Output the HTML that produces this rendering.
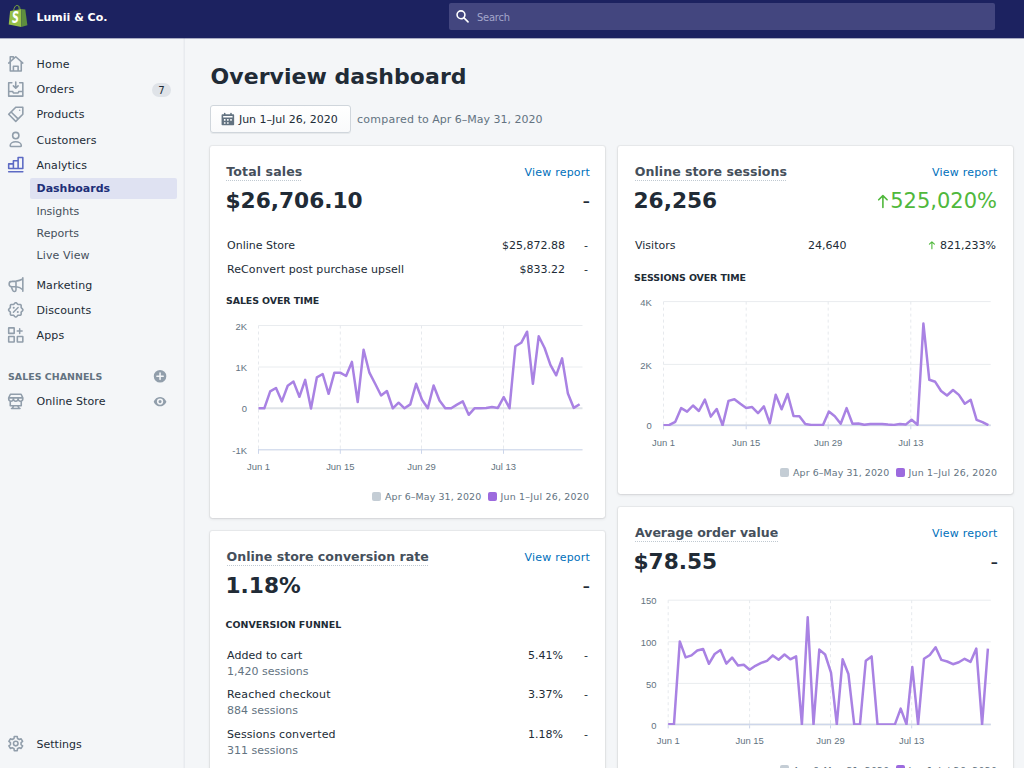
<!DOCTYPE html>
<html lang="en">
<head>
<meta charset="utf-8">
<title>Overview dashboard</title>
<style>
*{box-sizing:border-box;margin:0;padding:0}
html,body{width:1024px;height:768px;overflow:hidden}
body{background:#f4f6f8;font-family:"DejaVu Sans","Liberation Sans",sans-serif;font-size:11px;line-height:14px;color:#212b36;position:relative}
.a{position:absolute;white-space:nowrap}
#topbar{position:absolute;left:0;top:0;width:1024px;height:38px;background:#1c2260}
#store{left:36.5px;top:10.7px;font-weight:700;color:#fff}
#search{position:absolute;left:448.5px;top:3px;width:546px;height:27px;background:#43467f;border-radius:2px}
#search span{position:absolute;left:28.5px;top:8px;color:#a3a6cb;letter-spacing:-.2px;font-family:"DejaVu Sans Condensed","DejaVu Sans",sans-serif}
#sidebar{position:absolute;left:0;top:38px;width:185px;height:730px;background:linear-gradient(90deg,#f4f6f8 0,#f4f6f8 183px,#eef0f3 183px,#eef0f3 184px,#e8ebef 184px,#e8ebef 185px)}
.nav{position:absolute;left:36.5px;color:#212b36;white-space:nowrap}
.sub{position:absolute;left:36.5px;color:#454f5b;white-space:nowrap}
.ico{position:absolute;overflow:visible}
.card{position:absolute;background:#fff;border-radius:2.4px;box-shadow:0 0 0 1px rgba(63,63,68,.05),0 1px 3px 0 rgba(63,63,68,.15)}
.h{font-weight:700;font-size:12.57px;line-height:16px;color:#454f5b;padding-bottom:1px;background:repeating-linear-gradient(90deg,#c0c9d1 0,#c0c9d1 1px,rgba(255,255,255,0) 1px,rgba(255,255,255,0) 2px) left bottom/100% 1px no-repeat}
.big{font-weight:700;font-size:21.7px;line-height:26px;color:#212b36}
.link{color:#006fbb;letter-spacing:.2px}
.cmp{font-size:21px;line-height:26px;font-weight:400;color:#212b36}
.sec{font-weight:700;font-size:9.43px;line-height:12px;color:#212b36}
.mut{color:#637381}
.ra{text-align:right}
#charts{position:absolute;left:0;top:0;width:1024px;height:768px;pointer-events:none}
#charts text{font-family:"Liberation Sans",sans-serif;font-size:9.78px;fill:#637381}
.leg{font-size:9.43px;line-height:12px;color:#637381}
.sw{position:absolute;width:9px;height:9px;border-radius:2px}
</style>
</head>
<body>
<header id="topbar">
  <div class="a" id="store">Lumii &amp; Co.</div>
  <div id="search"><span>Search</span></div>
</header>
<div id="tbedge" class="a" style="z-index:5;left:0;top:38px;width:1024px;height:1px;background:rgba(28,34,96,.35)"></div>
<nav id="sidebar">
  <div class="nav" style="top:19.7px;letter-spacing:0.2px">Home</div>
  <div class="nav" style="top:44.7px;letter-spacing:0.13px">Orders</div>
  <div class="a" style="left:152px;top:44.7px;width:19px;height:14.5px;border-radius:7.25px;background:#dfe3e8;font-size:10.2px;line-height:16.3px;text-align:center;color:#212b36">7</div>
  <div class="nav" style="top:69.7px;letter-spacing:0.06px">Products</div>
  <div class="nav" style="top:95.7px;letter-spacing:0.09px">Customers</div>
  <div class="nav" style="top:120.7px;letter-spacing:0.06px">Analytics</div>
  <div class="a" style="left:30px;top:139.6px;width:147.3px;height:21.6px;background:#dfe2f2;border-radius:2px"></div>
  <div class="sub" style="top:143.7px;font-weight:700;color:#202e78">Dashboards</div>
  <div class="sub" style="top:166.7px;letter-spacing:-0.05px">Insights</div>
  <div class="sub" style="top:188.7px;letter-spacing:0.06px">Reports</div>
  <div class="sub" style="top:210.7px;letter-spacing:0.12px">Live View</div>
  <div class="nav" style="top:240.7px;letter-spacing:0.11px">Marketing</div>
  <div class="nav" style="top:265.7px;letter-spacing:0.09px">Discounts</div>
  <div class="nav" style="top:290.7px;letter-spacing:0.15px">Apps</div>
  <div class="a" style="left:8px;top:333.3px;font-size:9.43px;font-weight:700;color:#637381;line-height:12px;letter-spacing:.04px">SALES CHANNELS</div>
  <div class="nav" style="top:356.7px;letter-spacing:0.08px">Online Store</div>
  <div class="nav" style="top:699.7px">Settings</div>
</nav>
<main id="main">
  <h1 class="a" style="left:210.6px;top:62.5px;letter-spacing:.04px;font-size:22px;font-weight:700;line-height:28px;color:#212b36">Overview dashboard</h1>
  <div class="a" style="left:210px;top:105px;width:140.7px;height:27.6px;border:1px solid #d0d6dc;border-radius:3px;background:linear-gradient(#fff,#f9fafb);box-shadow:0 1px 0 rgba(22,29,37,.06)"></div>
  <div class="a" style="left:238.9px;top:112.5px">Jun 1–Jul 26, 2020</div>
  <div class="a mut" style="left:357px;top:112.5px"><span style="letter-spacing:.25px">compared</span> to Apr 6–May 31, 2020</div>

  <!-- card 1: total sales -->
  <div class="card" style="left:210px;top:146px;width:395px;height:371.5px"></div>
  <div class="a h" style="left:226.3px;top:163.5px;letter-spacing:.1px">Total sales</div>
  <a class="a link ra" style="right:434px;top:165.7px">View report</a>
  <div class="a big" style="left:225.5px;top:187.5px">$26,706.10</div>
  <div class="a ra cmp" style="right:434px;top:187.5px">-</div>
  <div class="a" style="left:227px;top:238.5px">Online Store</div>
  <div class="a ra" style="right:459px;top:238.5px">$25,872.88</div>
  <div class="a ra" style="right:436px;top:238.5px">-</div>
  <div class="a" style="left:227px;top:262.8px;letter-spacing:.08px">ReConvert post purchase upsell</div>
  <div class="a ra" style="right:459px;top:262.8px">$833.22</div>
  <div class="a ra" style="right:436px;top:262.8px">-</div>
  <div class="a sec" style="left:226px;top:294.6px;letter-spacing:-.08px">SALES OVER TIME</div>
  <div class="sw" style="left:372px;top:491.5px;background:#c4cdd5"></div>
  <div class="a leg" style="left:385px;top:490.7px;letter-spacing:.1px">Apr 6–May 31, 2020</div>
  <div class="sw" style="left:488px;top:491.5px;background:#9c6ade"></div>
  <div class="a leg" style="left:500.5px;top:490.7px;letter-spacing:.22px">Jun 1–Jul 26, 2020</div>

  <!-- card 2: conversion -->
  <div class="card" style="left:210px;top:531px;width:395px;height:260px"></div>
  <div class="a h" style="left:226.6px;top:548.5px">Online store conversion rate</div>
  <a class="a link ra" style="right:434px;top:550.7px">View report</a>
  <div class="a big" style="left:225.5px;top:572.5px">1.18%</div>
  <div class="a ra cmp" style="right:434px;top:572.5px">-</div>
  <div class="a sec" style="left:225.6px;top:618.5px">CONVERSION FUNNEL</div>
  <div class="a" style="left:227px;top:648.7px;letter-spacing:.06px">Added to cart</div>
  <div class="a mut" style="left:227px;top:664.8px">1,420 sessions</div>
  <div class="a ra" style="right:461px;top:648.5px">5.41%</div>
  <div class="a ra" style="right:436px;top:648.5px">-</div>
  <div class="a" style="left:227px;top:687.8px;letter-spacing:.18px">Reached checkout</div>
  <div class="a mut" style="left:227px;top:703.5px">884 sessions</div>
  <div class="a ra" style="right:461px;top:687.8px">3.37%</div>
  <div class="a ra" style="right:436px;top:687.8px">-</div>
  <div class="a" style="left:227px;top:727.8px;letter-spacing:.1px">Sessions converted</div>
  <div class="a mut" style="left:227px;top:743.8px">311 sessions</div>
  <div class="a ra" style="right:461px;top:727.8px">1.18%</div>
  <div class="a ra" style="right:436px;top:727.8px">-</div>

  <!-- card 3: sessions -->
  <div class="card" style="left:618px;top:146px;width:395px;height:348px"></div>
  <div class="a h" style="left:634.8px;top:163.5px;letter-spacing:.03px">Online store sessions</div>
  <a class="a link ra" style="right:26.5px;top:165.7px">View report</a>
  <div class="a big" style="left:633.5px;top:187.5px">26,256</div>
  <div class="a ra cmp" style="right:27px;top:187.5px;color:#50b83c">525,020%</div>
  <div class="a" style="left:635px;top:238.5px">Visitors</div>
  <div class="a ra" style="right:177.5px;top:238.5px">24,640</div>
  <div class="a ra" style="right:28px;top:238.5px">821,233%</div>
  <div class="a sec" style="left:634px;top:271.6px;letter-spacing:-.1px">SESSIONS OVER TIME</div>
  <div class="sw" style="left:780px;top:467.5px;background:#c4cdd5"></div>
  <div class="a leg" style="left:793px;top:466.7px;letter-spacing:.1px">Apr 6–May 31, 2020</div>
  <div class="sw" style="left:896px;top:467.5px;background:#9c6ade"></div>
  <div class="a leg" style="left:908.5px;top:466.7px;letter-spacing:.22px">Jun 1–Jul 26, 2020</div>

  <!-- card 4: AOV -->
  <div class="card" style="left:618px;top:507px;width:395px;height:280px"></div>
  <div class="a h" style="left:635px;top:524.5px;letter-spacing:-.04px">Average order value</div>
  <a class="a link ra" style="right:26.5px;top:526.7px">View report</a>
  <div class="a big" style="left:633.5px;top:548.5px">$78.55</div>
  <div class="a ra cmp" style="right:26px;top:548.5px">-</div>
  <div class="sw" style="left:780px;top:765.3px;background:#c4cdd5"></div>
  <div class="a leg" style="left:793px;top:764.5px;letter-spacing:.1px">Apr 6–May 31, 2020</div>
  <div class="sw" style="left:896px;top:765.3px;background:#9c6ade"></div>
  <div class="a leg" style="left:908.5px;top:764.5px;letter-spacing:.22px">Jun 1–Jul 26, 2020</div>
</main>
<svg id="charts" viewBox="0 0 1024 768">
<clipPath id="cp1"><rect x="256.5" y="320.5" width="328.0" height="129.9"/></clipPath>
<line x1="258.5" x2="582.5" y1="325.5" y2="325.5" stroke="#e9ecef" stroke-width="1"/>
<line x1="258.5" x2="582.5" y1="367" y2="367" stroke="#e9ecef" stroke-width="1"/>
<line x1="258.5" x2="582.5" y1="449.8" y2="449.8" stroke="#e9ecef" stroke-width="1"/>
<line x1="258.5" x2="258.5" y1="325.5" y2="449.8" stroke="#e6e9ed" stroke-width="1" stroke-dasharray="3 3"/>
<line x1="258.5" x2="258.5" y1="448.8" y2="453.8" stroke="#ccd6eb" stroke-width="1"/>
<line x1="340.3" x2="340.3" y1="325.5" y2="449.8" stroke="#e6e9ed" stroke-width="1" stroke-dasharray="3 3"/>
<line x1="340.3" x2="340.3" y1="448.8" y2="453.8" stroke="#ccd6eb" stroke-width="1"/>
<line x1="421.5" x2="421.5" y1="325.5" y2="449.8" stroke="#e6e9ed" stroke-width="1" stroke-dasharray="3 3"/>
<line x1="421.5" x2="421.5" y1="448.8" y2="453.8" stroke="#ccd6eb" stroke-width="1"/>
<line x1="503.5" x2="503.5" y1="325.5" y2="449.8" stroke="#e6e9ed" stroke-width="1" stroke-dasharray="3 3"/>
<line x1="503.5" x2="503.5" y1="448.8" y2="453.8" stroke="#ccd6eb" stroke-width="1"/>
<line x1="258.5" x2="582.5" y1="408.3" y2="408.3" stroke="#dfe3e8" stroke-width="2"/>
<line x1="258.5" x2="582.5" y1="449.8" y2="449.8" stroke="#ccd6eb" stroke-width="1"/>
<text transform="translate(247,330) scale(.965,1)" text-anchor="end">2K</text>
<text transform="translate(247,371) scale(.965,1)" text-anchor="end">1K</text>
<text transform="translate(247,412) scale(.965,1)" text-anchor="end">0</text>
<text transform="translate(247,454) scale(.965,1)" text-anchor="end">-1K</text>
<text transform="translate(258.5,470) scale(.965,1)" text-anchor="middle">Jun 1</text>
<text transform="translate(340.3,470) scale(.965,1)" text-anchor="middle">Jun 15</text>
<text transform="translate(421.5,470) scale(.965,1)" text-anchor="middle">Jun 29</text>
<text transform="translate(503.5,470) scale(.965,1)" text-anchor="middle">Jul 13</text>
<polyline clip-path="url(#cp1)" fill="none" stroke="#a982e3" stroke-width="2.5" stroke-linejoin="round" points="258.5,408.3 264.3,408.3 270.2,391.4 276.0,388.0 281.9,401.4 287.7,385.8 293.5,381.6 299.4,396.8 305.2,379.9 311.0,408.5 316.9,377.3 322.7,374.0 328.6,393.8 334.4,372.7 340.2,372.7 346.1,376.0 351.9,361.9 357.7,402.0 363.6,349.7 369.4,372.7 375.3,384.0 381.1,395.5 386.9,391.0 392.8,408.3 398.6,402.7 404.5,408.3 410.3,404.4 416.1,383.8 422.0,399.7 427.8,408.3 433.6,385.5 439.5,400.5 445.3,408.3 451.2,408.3 457.0,404.6 462.8,401.4 468.7,414.8 474.5,408.3 480.4,408.3 486.2,408.0 492.0,407.0 497.9,407.9 503.7,397.1 509.5,408.3 515.4,346.3 521.2,342.8 527.1,331.7 532.9,383.8 538.7,336.3 544.6,348.0 550.4,364.9 556.2,375.3 562.1,358.4 567.9,393.6 573.8,407.9 579.6,404.2"/>
<clipPath id="cp2"><rect x="661.5" y="296.6" width="331.20000000000005" height="129.3"/></clipPath>
<line x1="663.5" x2="990.7" y1="301.6" y2="301.6" stroke="#e9ecef" stroke-width="1"/>
<line x1="663.5" x2="990.7" y1="364.4" y2="364.4" stroke="#e9ecef" stroke-width="1"/>
<line x1="663.5" x2="663.5" y1="301.6" y2="425.3" stroke="#e6e9ed" stroke-width="1" stroke-dasharray="3 3"/>
<line x1="663.5" x2="663.5" y1="424.3" y2="429.3" stroke="#ccd6eb" stroke-width="1"/>
<line x1="746.2" x2="746.2" y1="301.6" y2="425.3" stroke="#e6e9ed" stroke-width="1" stroke-dasharray="3 3"/>
<line x1="746.2" x2="746.2" y1="424.3" y2="429.3" stroke="#ccd6eb" stroke-width="1"/>
<line x1="828.2" x2="828.2" y1="301.6" y2="425.3" stroke="#e6e9ed" stroke-width="1" stroke-dasharray="3 3"/>
<line x1="828.2" x2="828.2" y1="424.3" y2="429.3" stroke="#ccd6eb" stroke-width="1"/>
<line x1="910.8" x2="910.8" y1="301.6" y2="425.3" stroke="#e6e9ed" stroke-width="1" stroke-dasharray="3 3"/>
<line x1="910.8" x2="910.8" y1="424.3" y2="429.3" stroke="#ccd6eb" stroke-width="1"/>
<line x1="663.5" x2="990.7" y1="425.3" y2="425.3" stroke="#dfe3e8" stroke-width="2"/>
<line x1="663.5" x2="990.7" y1="425.3" y2="425.3" stroke="#ccd6eb" stroke-width="1"/>
<text transform="translate(651.8,306) scale(.965,1)" text-anchor="end">4K</text>
<text transform="translate(651.8,369) scale(.965,1)" text-anchor="end">2K</text>
<text transform="translate(651.8,429) scale(.965,1)" text-anchor="end">0</text>
<text transform="translate(663.5,445.5) scale(.965,1)" text-anchor="middle">Jun 1</text>
<text transform="translate(746.2,445.5) scale(.965,1)" text-anchor="middle">Jun 15</text>
<text transform="translate(828.2,445.5) scale(.965,1)" text-anchor="middle">Jun 29</text>
<text transform="translate(910.8,445.5) scale(.965,1)" text-anchor="middle">Jul 13</text>
<polyline clip-path="url(#cp2)" fill="none" stroke="#a982e3" stroke-width="2.5" stroke-linejoin="round" points="663.5,425.3 669.4,424.9 675.3,421.8 681.2,408.1 687.1,411.6 693.0,405.5 698.9,411.0 704.9,399.6 710.8,416.6 716.7,409.0 722.6,425.3 728.5,400.9 734.4,399.2 740.3,403.8 746.2,408.1 752.1,407.1 758.0,413.2 763.9,406.4 769.8,423.3 775.7,394.7 781.6,409.3 787.6,394.0 793.5,415.9 799.4,416.2 805.3,424.0 811.2,424.9 817.1,425.0 823.0,425.0 828.9,411.6 834.8,416.2 840.7,423.7 846.6,408.1 852.5,423.7 858.4,423.5 864.3,424.8 870.3,424.1 876.2,423.9 882.1,424.1 888.0,424.6 893.9,424.9 899.8,424.0 905.7,424.6 911.6,419.8 917.5,424.8 923.4,323.6 929.3,379.8 935.2,381.8 941.1,391.0 947.0,395.5 953.0,390.0 958.9,394.9 964.8,403.7 970.7,399.8 976.6,419.9 982.5,422.2 988.4,425.2"/>
<clipPath id="cp3"><rect x="666.2" y="595.2" width="326.5999999999999" height="129.8"/></clipPath>
<line x1="668.2" x2="990.8" y1="600.2" y2="600.2" stroke="#e9ecef" stroke-width="1"/>
<line x1="668.2" x2="990.8" y1="641.8" y2="641.8" stroke="#e9ecef" stroke-width="1"/>
<line x1="668.2" x2="990.8" y1="683.4" y2="683.4" stroke="#e9ecef" stroke-width="1"/>
<line x1="668.2" x2="668.2" y1="600.2" y2="724.4" stroke="#e6e9ed" stroke-width="1" stroke-dasharray="3 3"/>
<line x1="668.2" x2="668.2" y1="723.4" y2="728.4" stroke="#ccd6eb" stroke-width="1"/>
<line x1="749.6" x2="749.6" y1="600.2" y2="724.4" stroke="#e6e9ed" stroke-width="1" stroke-dasharray="3 3"/>
<line x1="749.6" x2="749.6" y1="723.4" y2="728.4" stroke="#ccd6eb" stroke-width="1"/>
<line x1="830.5" x2="830.5" y1="600.2" y2="724.4" stroke="#e6e9ed" stroke-width="1" stroke-dasharray="3 3"/>
<line x1="830.5" x2="830.5" y1="723.4" y2="728.4" stroke="#ccd6eb" stroke-width="1"/>
<line x1="911.7" x2="911.7" y1="600.2" y2="724.4" stroke="#e6e9ed" stroke-width="1" stroke-dasharray="3 3"/>
<line x1="911.7" x2="911.7" y1="723.4" y2="728.4" stroke="#ccd6eb" stroke-width="1"/>
<line x1="668.2" x2="990.8" y1="724.4" y2="724.4" stroke="#dfe3e8" stroke-width="2"/>
<line x1="668.2" x2="990.8" y1="724.4" y2="724.4" stroke="#ccd6eb" stroke-width="1"/>
<text transform="translate(656.5,604) scale(.965,1)" text-anchor="end">150</text>
<text transform="translate(656.5,646) scale(.965,1)" text-anchor="end">100</text>
<text transform="translate(656.5,688) scale(.965,1)" text-anchor="end">50</text>
<text transform="translate(656.5,729) scale(.965,1)" text-anchor="end">0</text>
<text transform="translate(668.2,744) scale(.965,1)" text-anchor="middle">Jun 1</text>
<text transform="translate(749.6,744) scale(.965,1)" text-anchor="middle">Jun 15</text>
<text transform="translate(830.5,744) scale(.965,1)" text-anchor="middle">Jun 29</text>
<text transform="translate(911.7,744) scale(.965,1)" text-anchor="middle">Jul 13</text>
<polyline clip-path="url(#cp3)" fill="none" stroke="#a982e3" stroke-width="2.5" stroke-linejoin="round" points="668.2,724.2 674.0,724.2 679.8,641.4 685.6,657.4 691.5,655.4 697.3,650.5 703.1,649.0 708.9,663.8 714.7,654.0 720.5,650.0 726.3,663.6 732.1,657.6 738.0,665.6 743.8,664.8 749.6,669.7 755.4,665.8 761.2,662.9 767.0,660.9 772.8,655.4 778.6,659.7 784.5,654.5 790.3,659.3 796.1,656.4 801.9,724.4 807.7,617.3 813.5,724.4 819.3,649.6 825.1,654.5 831.0,672.7 836.8,724.4 842.6,659.3 848.4,674.0 854.2,724.4 860.0,724.4 865.8,660.7 871.6,656.4 877.5,724.4 883.3,724.4 889.1,724.4 894.9,724.4 900.7,708.6 906.5,724.4 912.3,667.1 918.1,724.4 924.0,658.8 929.8,655.0 935.6,647.2 941.4,659.9 947.2,661.5 953.0,664.2 958.8,662.3 964.6,658.8 970.5,661.9 976.3,648.6 982.1,724.4 987.9,648.6"/>
</svg>
<svg class="ico" style="left:0;top:0" width="36" height="36" viewBox="0 0 36 36"><polygon fill="#95bf47" points="10.1,11 14,10.2 21.3,8.9 21.3,27 8.7,24.6"/><polygon fill="#5e8e3e" points="21.3,8.9 25.3,9.6 27.4,25.3 21.3,27"/><path fill="none" stroke="#86ad42" stroke-width=".9" d="M13.7 10.3c.3-2.4 1.6-4.9 3.2-4.9 1.4 0 2.2 1.6 2.4 3.9"/><path fill="none" stroke="#5e8e3e" stroke-width=".8" d="M16.4 5.6c1.8-.7 3.4.6 3.8 3.4"/><text transform="translate(11.9,23.1) scale(.64,1)" font-family="DejaVu Sans,sans-serif" font-weight="700" font-style="italic" font-size="15" fill="#fff">S</text></svg>
<svg class="ico" style="left:454px;top:8px" width="17" height="17"><g transform="translate(0.70,0.50) scale(0.7857)"><path fill="#fff" fill-rule="evenodd" d="M8 12a4 4 0 1 1 0-8 4 4 0 0 1 0 8zm9.707 4.293l-4.82-4.82A5.968 5.968 0 0 0 14 8 6 6 0 0 0 2 8a6 6 0 0 0 6 6 5.968 5.968 0 0 0 3.473-1.113l4.82 4.82a.997.997 0 0 0 1.414 0 .999.999 0 0 0 0-1.414z"/></g></svg>
<svg class="ico" style="left:7px;top:56px" width="17" height="17"><g transform="translate(0.90,0.00) scale(0.7857)"><path fill="#919eab" fill-rule="evenodd" d="M19.664 8.252l-9-8a1 1 0 0 0-1.328 0L8 1.44V1a1 1 0 0 0-1-1H3a1 1 0 0 0-1 1v5.773L.336 8.252a1.001 1.001 0 0 0 1.328 1.496L2 9.449V19a1 1 0 0 0 1 1h14a1 1 0 0 0 1-1V9.449l.336.299a.997.997 0 0 0 1.411-.083 1.001 1.001 0 0 0-.083-1.413zM16 18h-2v-5a1 1 0 0 0-1-1H7a1 1 0 0 0-1 1v5H4V7.671l6-5.333 6 5.333V18zm-8 0v-4h4v4H8zM4 2h2v1.218L4 4.996V2z"/></g></svg>
<svg class="ico" style="left:7px;top:81px" width="17" height="17"><g transform="translate(0.90,0.20) scale(0.7857)"><path fill="#919eab" fill-rule="evenodd" d="M2 18v-4h3.382l.723 1.447c.17.339.516.553.895.553h6c.379 0 .725-.214.895-.553L14.618 14H18v4H2zM19 1a1 1 0 0 1 1 1v17a1 1 0 0 1-1 1H1a1 1 0 0 1-1-1V2a1 1 0 0 1 1-1h4a1 1 0 0 1 0 2H2v9h4c.379 0 .725.214.895.553L7.618 14h4.764l.723-1.447c.17-.339.516-.553.895-.553h4V3h-3a1 1 0 0 1 0-2h4zM6.293 6.707a.999.999 0 1 1 1.414-1.414L9 6.586V1a1 1 0 0 1 2 0v5.586l1.293-1.293a.999.999 0 1 1 1.414 1.414l-3 3a.997.997 0 0 1-1.414 0l-3-3z"/></g></svg>
<svg class="ico" style="left:7px;top:106px" width="17" height="17"><g transform="translate(0.90,0.40) scale(0.7857)"><path fill="#919eab" fill-rule="evenodd" d="M19 0h-9c-.265 0-.52.106-.707.293l-9 9a.999.999 0 0 0 0 1.414l9 9a.997.997 0 0 0 1.414 0l9-9A.997.997 0 0 0 20 10V1a1 1 0 0 0-1-1zm-9 17.586L2.414 10 4 8.414 11.586 16 10 17.586zm8-8l-5 5L5.414 7l5-5H18v7.586zM15 6a1 1 0 1 0 0-2 1 1 0 0 0 0 2"/></g></svg>
<svg class="ico" style="left:7px;top:131px" width="17" height="17"><g transform="translate(0.90,0.60) scale(0.7857)"><circle cx="10" cy="5" r="4" fill="none" stroke="#919eab" stroke-width="2"/><path fill="none" stroke="#919eab" stroke-width="2" stroke-linecap="round" stroke-linejoin="round" d="M3 17.4c0-2.5 3-4.4 7-4.4s7 1.9 7 4.4v.5a1 1 0 0 1-1 1H4a1 1 0 0 1-1-1z" /></g></svg>
<svg class="ico" style="left:7px;top:156px" width="17" height="17"><g transform="translate(0.90,0.80) scale(0.7857)"><path fill="#5c6ac4" fill-rule="evenodd" d="M19 18a1 1 0 0 1 0 2H1a1 1 0 0 1 0-2h18zm0-18a1 1 0 0 1 1 1v14a1 1 0 0 1-1 1H1a1 1 0 0 1-1-1V9a1 1 0 0 1 1-1h5V5a1 1 0 0 1 1-1h5V1a1 1 0 0 1 1-1h6zm-1 14V2h-4v12h4zm-6 0V6H8v8h4zm-6 0v-4H2v4h4z"/></g></svg>
<svg class="ico" style="left:7px;top:276px" width="17" height="17"><g transform="translate(0.90,0.80) scale(0.7857)"><path fill="none" stroke="#919eab" stroke-width="2" stroke-linecap="round" stroke-linejoin="round" d="M19 1.3v17.2M19 2.8C16 4.3 13 5.2 10.5 5.5L5 5.8a3.45 3.45 0 0 0 0 6.9h6c2.8.3 5.5 1.7 8 3.8M10.3 5.6v11.6M4.3 13l1.9 4.3a2.1 2.1 0 0 0 4.1-.4" /></g></svg>
<svg class="ico" style="left:7px;top:302px" width="17" height="17"><g transform="translate(0.90,0.00) scale(0.7857)"><path fill="none" stroke="#919eab" stroke-width="2" stroke-linecap="round" stroke-linejoin="round" d="M19.10 10.00L19.05 10.36L18.92 10.70L18.71 11.03L18.44 11.34L18.14 11.62L17.83 11.88L17.54 12.13L17.28 12.36L17.07 12.61L16.93 12.87L16.85 13.16L16.82 13.47L16.83 13.83L16.87 14.21L16.90 14.61L16.91 15.02L16.89 15.43L16.80 15.81L16.65 16.15L16.43 16.43L16.15 16.65L15.81 16.80L15.43 16.89L15.02 16.91L14.61 16.90L14.21 16.87L13.83 16.83L13.47 16.82L13.16 16.85L12.87 16.93L12.61 17.07L12.36 17.28L12.13 17.54L11.88 17.83L11.62 18.14L11.34 18.44L11.03 18.71L10.70 18.92L10.36 19.05L10.00 19.10L9.64 19.05L9.30 18.92L8.97 18.71L8.66 18.44L8.38 18.14L8.12 17.83L7.87 17.54L7.64 17.28L7.39 17.07L7.13 16.93L6.84 16.85L6.53 16.82L6.17 16.83L5.79 16.87L5.39 16.90L4.98 16.91L4.57 16.89L4.19 16.80L3.85 16.65L3.57 16.43L3.35 16.15L3.20 15.81L3.11 15.43L3.09 15.02L3.10 14.61L3.13 14.21L3.17 13.83L3.18 13.47L3.15 13.16L3.07 12.87L2.93 12.61L2.72 12.36L2.46 12.13L2.17 11.88L1.86 11.62L1.56 11.34L1.29 11.03L1.08 10.70L0.95 10.36L0.90 10.00L0.95 9.64L1.08 9.30L1.29 8.97L1.56 8.66L1.86 8.38L2.17 8.12L2.46 7.87L2.72 7.64L2.93 7.39L3.07 7.13L3.15 6.84L3.18 6.53L3.17 6.17L3.13 5.79L3.10 5.39L3.09 4.98L3.11 4.57L3.20 4.19L3.35 3.85L3.57 3.57L3.85 3.35L4.19 3.20L4.57 3.11L4.98 3.09L5.39 3.10L5.79 3.13L6.17 3.17L6.53 3.18L6.84 3.15L7.13 3.07L7.39 2.93L7.64 2.72L7.87 2.46L8.12 2.17L8.38 1.86L8.66 1.56L8.97 1.29L9.30 1.08L9.64 0.95L10.00 0.90L10.36 0.95L10.70 1.08L11.03 1.29L11.34 1.56L11.62 1.86L11.88 2.17L12.13 2.46L12.36 2.72L12.61 2.93L12.87 3.07L13.16 3.15L13.47 3.18L13.83 3.17L14.21 3.13L14.61 3.10L15.02 3.09L15.43 3.11L15.81 3.20L16.15 3.35L16.43 3.57L16.65 3.85L16.80 4.19L16.89 4.57L16.91 4.98L16.90 5.39L16.87 5.79L16.83 6.17L16.82 6.53L16.85 6.84L16.93 7.13L17.07 7.39L17.28 7.64L17.54 7.87L17.83 8.12L18.14 8.38L18.44 8.66L18.71 8.97L18.92 9.30L19.05 9.64z" /><path fill="none" stroke="#919eab" stroke-width="1.8" stroke-linecap="round" stroke-linejoin="round" d="M7 13l6-6" /><circle cx="7.4" cy="7.4" r="1.3" fill="#919eab"/><circle cx="12.6" cy="12.6" r="1.3" fill="#919eab"/></g></svg>
<svg class="ico" style="left:7px;top:327px" width="17" height="17"><g transform="translate(0.90,0.10) scale(0.7857)"><g fill="none" stroke="#919eab" stroke-width="2" stroke-linejoin="round"><rect x="1" y="1" width="7" height="7" rx=".3"/><rect x="1" y="12" width="7" height="7" rx=".3"/><rect x="12" y="12" width="7" height="7" rx=".3"/></g><path fill="none" stroke="#919eab" stroke-width="1.9" stroke-linecap="round" stroke-linejoin="round" d="M15 2v6.2M11.9 5.1h6.2" /></g></svg>
<svg class="ico" style="left:152px;top:368px" width="17" height="17"><g transform="translate(0.20,0.35) scale(0.7857)"><path fill="#919eab" fill-rule="evenodd" d="M15 10a1 1 0 0 1-1 1h-3v3a1 1 0 1 1-2 0v-3H6a1 1 0 1 1 0-2h3V6a1 1 0 0 1 2 0v3h3a1 1 0 0 1 1 1zm-5-8a8 8 0 1 0 0 16 8 8 0 0 0 0-16z"/></g></svg>
<svg class="ico" style="left:7px;top:393px" width="17" height="17"><g transform="translate(0.90,0.50) scale(0.7857)"><path fill="none" stroke="#919eab" stroke-width="2" stroke-linecap="round" stroke-linejoin="round" d="M3.2 1h13.6L19 5.6v1.2a3 3 0 0 1-6 0 3 3 0 0 1-6 0 3 3 0 0 1-6 0V5.6zM1 5.6h18M7 5.6v1.2M13 5.6v1.2M3 9.5v6h14v-6M7.6 15.8l-2.2 3.2M12.4 15.8l2.2 3.2M4.6 19.1h10.8" /></g></svg>
<svg class="ico" style="left:152px;top:393px" width="17" height="17"><g transform="translate(0.20,0.75) scale(0.7857)"><path fill="#919eab" fill-rule="evenodd" d="M17.928 9.628C17.836 9.399 15.611 4 9.999 4S2.162 9.399 2.07 9.628a1.017 1.017 0 0 0 0 .744C2.162 10.601 4.387 16 9.999 16s7.837-5.399 7.929-5.628a1.017 1.017 0 0 0 0-.744zM9.999 14a4 4 0 1 1 0-8 4 4 0 0 1 0 8zm0-6A2 2 0 1 0 10 12.001 2 2 0 0 0 10 8z"/></g></svg>
<svg class="ico" style="left:7px;top:735px" width="17" height="17"><g transform="translate(0.90,0.75) scale(0.7857)"><path fill="none" stroke="#919eab" stroke-width="2" stroke-linecap="round" stroke-linejoin="round" d="M12.19 3.46L11.91 1.00L8.09 1.00L7.81 3.46L5.43 4.83L3.16 3.84L1.25 7.16L3.24 8.62L3.24 11.38L1.25 12.84L3.16 16.16L5.43 15.17L7.81 16.54L8.09 19.00L11.91 19.00L12.19 16.54L14.57 15.17L16.84 16.16L18.75 12.84L16.76 11.38L16.76 8.62L18.75 7.16L16.84 3.84L14.57 4.83z" /><circle cx="10" cy="10" r="2.9" fill="none" stroke="#919eab" stroke-width="2"/></g></svg>
<svg class="ico" style="left:220px;top:111px" width="17" height="17"><g transform="translate(0.00,0.20) scale(0.7857)"><path fill="#637381" fill-rule="evenodd" d="M4 8h12V6H4v2zm9 4h2v-2h-2v2zm-4 0h2v-2H9v2zm0 4h2v-2H9v2zm-4-4h2v-2H5v2zm0 4h2v-2H5v2zM17 4h-2V3a1 1 0 1 0-2 0v1H7V3a1 1 0 1 0-2 0v1H3a1 1 0 0 0-1 1v12a1 1 0 0 0 1 1h14a1 1 0 0 0 1-1V5a1 1 0 0 0-1-1z"/></g></svg>
<svg class="ico" style="left:877px;top:193px" width="12" height="16"><g transform="translate(.4,.6)"><path fill="none" stroke="#50b83c" stroke-width="1.6" stroke-linecap="round" stroke-linejoin="round" d="M5.5 13.8V2.2M1.3 6.2l4.2-4.2 4.2 4.2" /></g></svg>
<svg class="ico" style="left:928px;top:240px" width="8" height="10"><g transform="translate(.4,.8)"><path fill="none" stroke="#50b83c" stroke-width="1.1" stroke-linecap="round" stroke-linejoin="round" d="M3.5 8V1.2M1 3.4l2.5-2.4L6 3.4" /></g></svg>
</body>
</html>
